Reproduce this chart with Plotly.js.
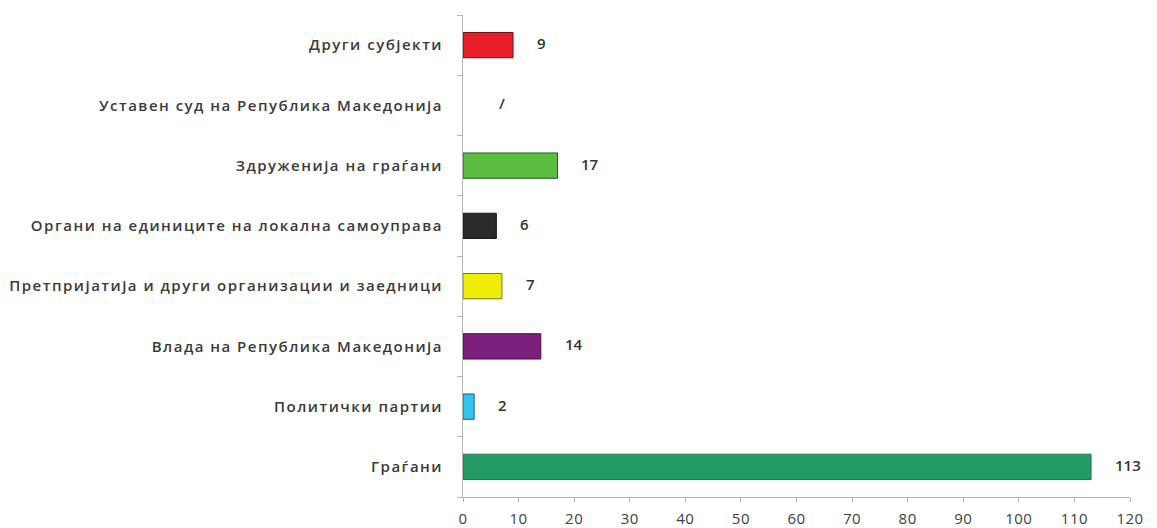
<!DOCTYPE html>
<html>
<head>
<meta charset="utf-8">
<script src="https://cdn.plot.ly/plotly-3.0.1.min.js"></script>
<style>
html,body{margin:0;padding:0;background:#fff;}
#chart{width:1157px;height:528px;}
#chart .ytick text{letter-spacing:1.5px;}
#chart .xtick text{letter-spacing:0.5px;}
</style>
</head>
<body>
<div id="chart"></div>
<script>
// Data (bottom to top)
const categories = [
  "Граѓани",
  "Политички партии",
  "Влада на Република Македонија",
  "Претпријатија и други организации и заедници",
  "Органи на единиците на локална самоуправа",
  "Здруженија на граѓани",
  "Уставен суд на Република Македонија",
  "Други субјекти"
];
const values = [113, 2, 14, 7, 6, 17, 0, 9];
const valueLabels = ["113", "2", "14", "7", "6", "17", "/", "9"];
const barColors = ["#229b66", "#33c3ef", "#7b1e7c", "#f0ec0a", "#2b2b2b", "#5bbd40", "#ffffff", "#e81e28"];
const barLines = ["#1a7a4e", "#1d5f80", "#4a1050", "#7a7a00", "#1a1a1a", "#1d5e1d", "#ffffff", "#6a1010"];
const xTicks = [0, 10, 20, 30, 40, 50, 60, 70, 80, 90, 100, 110, 120];

const trace = {
  type: "bar",
  orientation: "h",
  y: categories,
  x: values,
  marker: {color: barColors, line: {color: barLines, width: 1}},
  width: 0.42,
  hoverinfo: "none"
};

const annotations = categories.map((c, i) => ({
  x: values[i],
  y: c,
  xref: "x",
  yref: "y",
  text: valueLabels[i],
  showarrow: false,
  xanchor: "left",
  yshift: 2,
  xshift: values[i] === 0 ? 34 : 22,
  font: {family: "Open Sans, sans-serif", size: 15, weight: 600, color: "#333333"}
}));

const layout = {
  width: 1157,
  height: 528,
  margin: {l: 463, r: 27, t: 15, b: 31},
  paper_bgcolor: "#ffffff",
  plot_bgcolor: "#ffffff",
  showlegend: false,
  font: {family: "Open Sans, sans-serif", size: 14, color: "#404040"},
  xaxis: {
    range: [0, 120],
    tickvals: xTicks,
    ticktext: xTicks.map(String),
    showgrid: false,
    zeroline: false,
    showline: true,
    linecolor: "#b5b5b5",
    linewidth: 1,
    ticks: "outside",
    ticklen: 4,
    tickcolor: "#b5b5b5",
    ticklabelstandoff: 4,
    tickfont: {family: "Open Sans, sans-serif", size: 15, color: "#404040"},
    fixedrange: true
  },
  yaxis: {
    type: "category",
    categoryorder: "array",
    categoryarray: categories,
    showgrid: false,
    zeroline: false,
    showline: true,
    linecolor: "#b5b5b5",
    linewidth: 1,
    ticks: "outside",
    tickson: "boundaries",
    ticklen: 5,
    tickcolor: "#b5b5b5",
    ticklabelstandoff: 16,
    tickfont: {family: "Open Sans, sans-serif", size: 15, weight: 600, color: "#3a3a3a"},
    fixedrange: true
  },
  annotations: annotations
};

Plotly.newPlot("chart", [trace], layout, {displayModeBar: false, staticPlot: true});
</script>
</body>
</html>
